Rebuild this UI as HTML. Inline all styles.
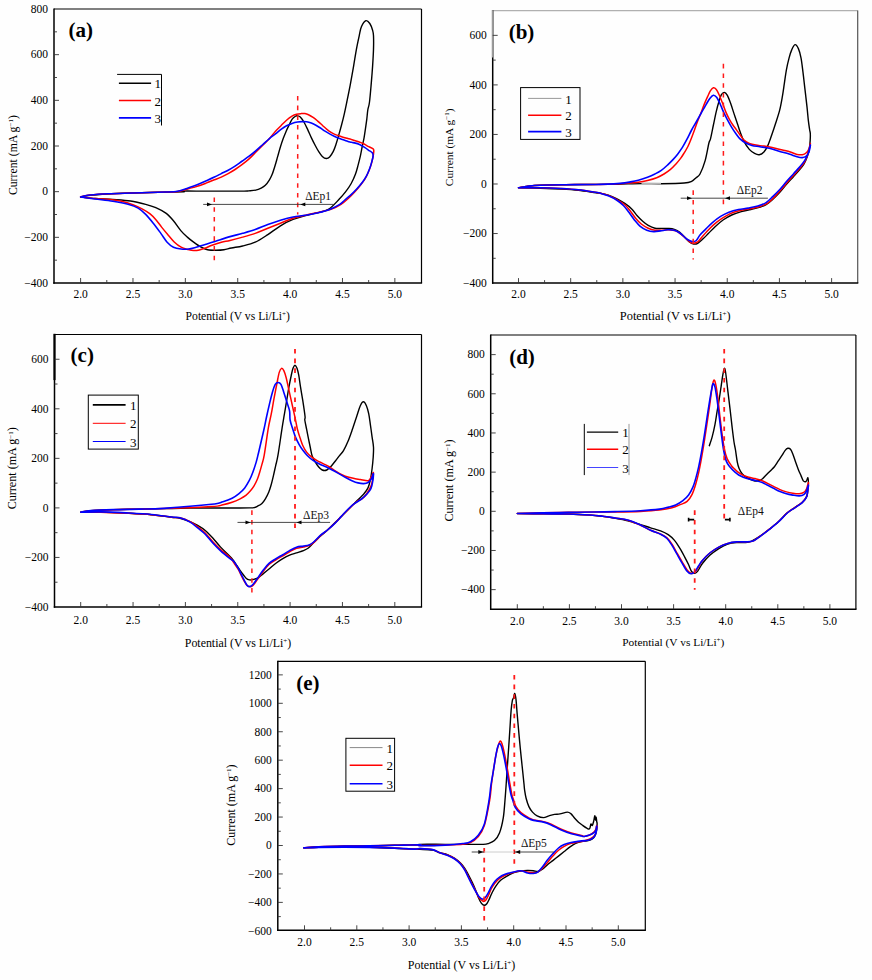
<!DOCTYPE html>
<html><head><meta charset="utf-8"><style>
html,body{margin:0;padding:0;background:#fff;}
body{width:872px;height:980px;overflow:hidden;}
svg{display:block;}
text{font-family:"Liberation Serif", serif;fill:#000;}
.tk{font-size:11.5px;}
.ti{font-size:12.5px;}
.lt{font-size:21px;font-weight:bold;}
.lg{font-size:13px;}
.lb{fill:#111;}
</style></head><body>
<svg width="872" height="980" viewBox="0 0 872 980">
<rect width="872" height="980" fill="#fefefe"/>
<line x1="54.00" y1="9.00" x2="421.50" y2="9.00" stroke="#000" stroke-width="1.2"/>
<line x1="421.50" y1="9.00" x2="421.50" y2="283.00" stroke="#000" stroke-width="1.2"/>
<line x1="54.00" y1="8.40" x2="54.00" y2="283.70" stroke="#000" stroke-width="1.5"/>
<line x1="53.30" y1="283.00" x2="422.10" y2="283.00" stroke="#000" stroke-width="1.5"/>
<path d="M80.60,283.00v-5.00 M106.79,283.00v-3.00 M132.97,283.00v-5.00 M159.16,283.00v-3.00 M185.35,283.00v-5.00 M211.54,283.00v-3.00 M237.72,283.00v-5.00 M263.91,283.00v-3.00 M290.10,283.00v-5.00 M316.29,283.00v-3.00 M342.48,283.00v-5.00 M368.66,283.00v-3.00 M394.85,283.00v-5.00 M54.00,260.17h3.00 M54.00,237.34h5.00 M54.00,214.50h3.00 M54.00,191.67h5.00 M54.00,168.84h3.00 M54.00,146.00h5.00 M54.00,123.17h3.00 M54.00,100.34h5.00 M54.00,77.50h3.00 M54.00,54.67h5.00 M54.00,31.84h3.00" stroke="#333" stroke-width="0.9" fill="none"/>
<text x="80.60" y="297.90" text-anchor="middle" class="tk">2.0</text>
<text x="132.97" y="297.90" text-anchor="middle" class="tk">2.5</text>
<text x="185.35" y="297.90" text-anchor="middle" class="tk">3.0</text>
<text x="237.72" y="297.90" text-anchor="middle" class="tk">3.5</text>
<text x="290.10" y="297.90" text-anchor="middle" class="tk">4.0</text>
<text x="342.48" y="297.90" text-anchor="middle" class="tk">4.5</text>
<text x="394.85" y="297.90" text-anchor="middle" class="tk">5.0</text>
<text x="48.00" y="286.80" text-anchor="end" class="tk">−400</text>
<text x="48.00" y="241.14" text-anchor="end" class="tk">−200</text>
<text x="48.00" y="195.47" text-anchor="end" class="tk">0</text>
<text x="48.00" y="149.80" text-anchor="end" class="tk">200</text>
<text x="48.00" y="104.14" text-anchor="end" class="tk">400</text>
<text x="48.00" y="58.47" text-anchor="end" class="tk">600</text>
<text x="48.00" y="12.81" text-anchor="end" class="tk">800</text>
<text x="237.75" y="319.90" text-anchor="middle" class="ti" style="font-size:11.65px">Potential (V vs Li/Li<tspan dy="-3.6" font-size="7">+</tspan><tspan dy="3.6">)</tspan></text>
<text transform="translate(17.00,155.15) rotate(-90)" text-anchor="middle" class="ti" style="font-size:11.75px">Current (mA g<tspan dy="-3.6" font-size="7">−1</tspan><tspan dy="3.6">)</tspan></text>
<text x="68.60" y="36.50" class="lt">(a)</text>
<line x1="492.70" y1="10.60" x2="857.70" y2="10.60" stroke="#b0b0b0" stroke-width="1.2"/>
<line x1="857.70" y1="10.60" x2="857.70" y2="283.10" stroke="#555" stroke-width="1.2"/>
<line x1="492.70" y1="10.00" x2="492.70" y2="283.80" stroke="#000" stroke-width="1.5"/>
<line x1="492.00" y1="283.10" x2="858.30" y2="283.10" stroke="#000" stroke-width="1.5"/>
<line x1="492.70" y1="10.10" x2="492.70" y2="57.50" stroke="#9a9a9a" stroke-width="1.70"/>
<path d="M518.50,283.10v-5.00 M544.59,283.10v-3.00 M570.68,283.10v-5.00 M596.78,283.10v-3.00 M622.87,283.10v-5.00 M648.96,283.10v-3.00 M675.06,283.10v-5.00 M701.15,283.10v-3.00 M727.24,283.10v-5.00 M753.33,283.10v-3.00 M779.42,283.10v-5.00 M805.52,283.10v-3.00 M831.61,283.10v-5.00 M492.70,258.31h3.00 M492.70,233.54h5.00 M492.70,208.76h3.00 M492.70,183.99h5.00 M492.70,159.22h3.00 M492.70,134.44h5.00 M492.70,109.67h3.00 M492.70,84.90h5.00 M492.70,60.12h3.00 M492.70,35.35h5.00" stroke="#333" stroke-width="0.9" fill="none"/>
<text x="518.50" y="297.80" text-anchor="middle" class="tk">2.0</text>
<text x="570.68" y="297.80" text-anchor="middle" class="tk">2.5</text>
<text x="622.87" y="297.80" text-anchor="middle" class="tk">3.0</text>
<text x="675.06" y="297.80" text-anchor="middle" class="tk">3.5</text>
<text x="727.24" y="297.80" text-anchor="middle" class="tk">4.0</text>
<text x="779.42" y="297.80" text-anchor="middle" class="tk">4.5</text>
<text x="831.61" y="297.80" text-anchor="middle" class="tk">5.0</text>
<text x="486.70" y="286.88" text-anchor="end" class="tk">−400</text>
<text x="486.70" y="237.34" text-anchor="end" class="tk">−200</text>
<text x="486.70" y="187.79" text-anchor="end" class="tk">0</text>
<text x="486.70" y="138.24" text-anchor="end" class="tk">200</text>
<text x="486.70" y="88.70" text-anchor="end" class="tk">400</text>
<text x="486.70" y="39.15" text-anchor="end" class="tk">600</text>
<text x="675.20" y="319.50" text-anchor="middle" class="ti" style="font-size:12.40px">Potential (V vs Li/Li<tspan dy="-3.6" font-size="7">+</tspan><tspan dy="3.6">)</tspan></text>
<text transform="translate(452.80,147.35) rotate(-90)" text-anchor="middle" class="ti" style="font-size:11.40px">Current (mA g<tspan dy="-3.6" font-size="7">−1</tspan><tspan dy="3.6">)</tspan></text>
<text x="508.70" y="38.50" class="lt">(b)</text>
<line x1="54.50" y1="334.50" x2="421.50" y2="334.50" stroke="#000" stroke-width="1.2"/>
<line x1="421.50" y1="334.50" x2="421.50" y2="607.00" stroke="#000" stroke-width="1.2"/>
<line x1="54.50" y1="333.90" x2="54.50" y2="607.70" stroke="#000" stroke-width="1.5"/>
<line x1="53.80" y1="607.00" x2="422.10" y2="607.00" stroke="#000" stroke-width="1.5"/>
<line x1="54.50" y1="333.80" x2="54.50" y2="380.10" stroke="#000" stroke-width="2.10"/>
<path d="M80.70,607.00v-5.00 M106.88,607.00v-3.00 M133.05,607.00v-5.00 M159.23,607.00v-3.00 M185.40,607.00v-5.00 M211.57,607.00v-3.00 M237.75,607.00v-5.00 M263.93,607.00v-3.00 M290.10,607.00v-5.00 M316.28,607.00v-3.00 M342.45,607.00v-5.00 M368.62,607.00v-3.00 M394.80,607.00v-5.00 M54.50,582.22h3.00 M54.50,557.45h5.00 M54.50,532.67h3.00 M54.50,507.90h5.00 M54.50,483.13h3.00 M54.50,458.35h5.00 M54.50,433.58h3.00 M54.50,408.81h5.00 M54.50,384.03h3.00 M54.50,359.26h5.00" stroke="#333" stroke-width="0.9" fill="none"/>
<text x="80.70" y="623.70" text-anchor="middle" class="tk">2.0</text>
<text x="133.05" y="623.70" text-anchor="middle" class="tk">2.5</text>
<text x="185.40" y="623.70" text-anchor="middle" class="tk">3.0</text>
<text x="237.75" y="623.70" text-anchor="middle" class="tk">3.5</text>
<text x="290.10" y="623.70" text-anchor="middle" class="tk">4.0</text>
<text x="342.45" y="623.70" text-anchor="middle" class="tk">4.5</text>
<text x="394.80" y="623.70" text-anchor="middle" class="tk">5.0</text>
<text x="48.50" y="610.79" text-anchor="end" class="tk">−400</text>
<text x="48.50" y="561.25" text-anchor="end" class="tk">−200</text>
<text x="48.50" y="511.70" text-anchor="end" class="tk">0</text>
<text x="48.50" y="462.15" text-anchor="end" class="tk">200</text>
<text x="48.50" y="412.61" text-anchor="end" class="tk">400</text>
<text x="48.50" y="363.06" text-anchor="end" class="tk">600</text>
<text x="238.00" y="646.50" text-anchor="middle" class="ti" style="font-size:11.90px">Potential (V vs Li/Li<tspan dy="-3.6" font-size="7">+</tspan><tspan dy="3.6">)</tspan></text>
<text transform="translate(16.20,468.30) rotate(-90)" text-anchor="middle" class="ti" style="font-size:12.10px">Current (mA g<tspan dy="-3.6" font-size="7">−1</tspan><tspan dy="3.6">)</tspan></text>
<text x="70.60" y="362.00" class="lt">(c)</text>
<line x1="490.70" y1="335.00" x2="855.90" y2="335.00" stroke="#000" stroke-width="1.2"/>
<line x1="855.90" y1="335.00" x2="855.90" y2="609.20" stroke="#000" stroke-width="1.2"/>
<line x1="490.70" y1="334.40" x2="490.70" y2="609.90" stroke="#000" stroke-width="1.5"/>
<line x1="490.00" y1="609.20" x2="856.50" y2="609.20" stroke="#000" stroke-width="1.5"/>
<path d="M517.30,609.20v-5.00 M543.35,609.20v-3.00 M569.40,609.20v-5.00 M595.45,609.20v-3.00 M621.50,609.20v-5.00 M647.55,609.20v-3.00 M673.60,609.20v-5.00 M699.65,609.20v-3.00 M725.70,609.20v-5.00 M751.75,609.20v-3.00 M777.80,609.20v-5.00 M803.85,609.20v-3.00 M829.90,609.20v-5.00 M490.70,589.64h5.00 M490.70,570.06h3.00 M490.70,550.47h5.00 M490.70,530.89h3.00 M490.70,511.30h5.00 M490.70,491.71h3.00 M490.70,472.13h5.00 M490.70,452.54h3.00 M490.70,432.96h5.00 M490.70,413.37h3.00 M490.70,393.78h5.00 M490.70,374.20h3.00 M490.70,354.61h5.00" stroke="#333" stroke-width="0.9" fill="none"/>
<text x="517.30" y="625.00" text-anchor="middle" class="tk">2.0</text>
<text x="569.40" y="625.00" text-anchor="middle" class="tk">2.5</text>
<text x="621.50" y="625.00" text-anchor="middle" class="tk">3.0</text>
<text x="673.60" y="625.00" text-anchor="middle" class="tk">3.5</text>
<text x="725.70" y="625.00" text-anchor="middle" class="tk">4.0</text>
<text x="777.80" y="625.00" text-anchor="middle" class="tk">4.5</text>
<text x="829.90" y="625.00" text-anchor="middle" class="tk">5.0</text>
<text x="484.70" y="593.44" text-anchor="end" class="tk">−400</text>
<text x="484.70" y="554.27" text-anchor="end" class="tk">−200</text>
<text x="484.70" y="515.10" text-anchor="end" class="tk">0</text>
<text x="484.70" y="475.93" text-anchor="end" class="tk">200</text>
<text x="484.70" y="436.76" text-anchor="end" class="tk">400</text>
<text x="484.70" y="397.58" text-anchor="end" class="tk">600</text>
<text x="484.70" y="358.41" text-anchor="end" class="tk">800</text>
<text x="673.30" y="646.00" text-anchor="middle" class="ti" style="font-size:11.40px">Potential (V vs Li/Li<tspan dy="-3.6" font-size="7">+</tspan><tspan dy="3.6">)</tspan></text>
<text transform="translate(453.40,480.50) rotate(-90)" text-anchor="middle" class="ti" style="font-size:12.10px">Current (mA g<tspan dy="-3.6" font-size="7">−1</tspan><tspan dy="3.6">)</tspan></text>
<text x="509.20" y="363.50" class="lt">(d)</text>
<line x1="277.80" y1="661.30" x2="645.30" y2="661.30" stroke="#000" stroke-width="1.2"/>
<line x1="645.30" y1="661.30" x2="645.30" y2="930.30" stroke="#000" stroke-width="1.2"/>
<line x1="277.80" y1="660.70" x2="277.80" y2="931.00" stroke="#000" stroke-width="1.5"/>
<line x1="277.10" y1="930.30" x2="645.90" y2="930.30" stroke="#000" stroke-width="1.5"/>
<path d="M304.50,930.30v-5.00 M330.65,930.30v-3.00 M356.80,930.30v-5.00 M382.95,930.30v-3.00 M409.10,930.30v-5.00 M435.25,930.30v-3.00 M461.40,930.30v-5.00 M487.55,930.30v-3.00 M513.70,930.30v-5.00 M539.85,930.30v-3.00 M566.00,930.30v-5.00 M592.15,930.30v-3.00 M618.30,930.30v-5.00 M277.80,916.60h3.00 M277.80,902.38h5.00 M277.80,888.16h3.00 M277.80,873.94h5.00 M277.80,859.72h3.00 M277.80,845.50h5.00 M277.80,831.28h3.00 M277.80,817.06h5.00 M277.80,802.84h3.00 M277.80,788.62h5.00 M277.80,774.40h3.00 M277.80,760.18h5.00 M277.80,745.96h3.00 M277.80,731.74h5.00 M277.80,717.52h3.00 M277.80,703.30h5.00 M277.80,689.08h3.00 M277.80,674.86h5.00" stroke="#333" stroke-width="0.9" fill="none"/>
<text x="304.50" y="946.10" text-anchor="middle" class="tk">2.0</text>
<text x="356.80" y="946.10" text-anchor="middle" class="tk">2.5</text>
<text x="409.10" y="946.10" text-anchor="middle" class="tk">3.0</text>
<text x="461.40" y="946.10" text-anchor="middle" class="tk">3.5</text>
<text x="513.70" y="946.10" text-anchor="middle" class="tk">4.0</text>
<text x="566.00" y="946.10" text-anchor="middle" class="tk">4.5</text>
<text x="618.30" y="946.10" text-anchor="middle" class="tk">5.0</text>
<text x="271.80" y="934.62" text-anchor="end" class="tk">−600</text>
<text x="271.80" y="906.18" text-anchor="end" class="tk">−400</text>
<text x="271.80" y="877.74" text-anchor="end" class="tk">−200</text>
<text x="271.80" y="849.30" text-anchor="end" class="tk">0</text>
<text x="271.80" y="820.86" text-anchor="end" class="tk">200</text>
<text x="271.80" y="792.42" text-anchor="end" class="tk">400</text>
<text x="271.80" y="763.98" text-anchor="end" class="tk">600</text>
<text x="271.80" y="735.54" text-anchor="end" class="tk">800</text>
<text x="271.80" y="707.10" text-anchor="end" class="tk">1000</text>
<text x="271.80" y="678.66" text-anchor="end" class="tk">1200</text>
<text x="461.55" y="969.00" text-anchor="middle" class="ti" style="font-size:12.00px">Potential (V vs Li/Li<tspan dy="-3.6" font-size="7">+</tspan><tspan dy="3.6">)</tspan></text>
<text transform="translate(234.80,805.10) rotate(-90)" text-anchor="middle" class="ti" style="font-size:12.00px">Current (mA g<tspan dy="-3.6" font-size="7">−1</tspan><tspan dy="3.6">)</tspan></text>
<text x="296.20" y="689.80" class="lt">(e)</text>
<path d="M117.1,74.4 H161.5 V125.5" fill="none" stroke="#000" stroke-width="1"/>
<line x1="118.90" y1="83.30" x2="151.10" y2="83.30" stroke="#000000" stroke-width="1.40"/>
<text x="154.40" y="88.40" class="lg">1</text>
<line x1="118.90" y1="100.50" x2="151.10" y2="100.50" stroke="#ff0000" stroke-width="1.60"/>
<text x="154.40" y="105.60" class="lg">2</text>
<line x1="118.90" y1="117.90" x2="151.10" y2="117.90" stroke="#0000ff" stroke-width="1.60"/>
<text x="154.40" y="123.00" class="lg">3</text>
<rect x="520.60" y="87.60" width="59.40" height="51.80" fill="none" stroke="#000" stroke-width="1"/>
<line x1="528.10" y1="98.40" x2="561.40" y2="98.40" stroke="#999" stroke-width="1.00"/>
<text x="565.20" y="103.50" class="lg">1</text>
<line x1="528.10" y1="115.30" x2="561.40" y2="115.30" stroke="#ff0000" stroke-width="1.60"/>
<text x="565.20" y="120.40" class="lg">2</text>
<line x1="528.10" y1="131.70" x2="561.40" y2="131.70" stroke="#0000ff" stroke-width="1.80"/>
<text x="565.20" y="136.80" class="lg">3</text>
<rect x="88.30" y="395.10" width="50.00" height="54.00" fill="none" stroke="#000" stroke-width="1"/>
<line x1="92.80" y1="404.90" x2="125.60" y2="404.90" stroke="#000000" stroke-width="1.60"/>
<text x="130.00" y="410.00" class="lg">1</text>
<line x1="92.80" y1="423.30" x2="125.60" y2="423.30" stroke="#ff0000" stroke-width="1.00"/>
<text x="130.00" y="428.40" class="lg">2</text>
<line x1="92.80" y1="441.50" x2="125.60" y2="441.50" stroke="#0000ff" stroke-width="1.20"/>
<text x="130.00" y="446.60" class="lg">3</text>
<line x1="584.3" y1="423.9" x2="584.3" y2="475.1" stroke="#000" stroke-width="1"/>
<line x1="629" y1="423.9" x2="629" y2="475.1" stroke="#999" stroke-width="1"/>
<line x1="586.90" y1="432.20" x2="618.20" y2="432.20" stroke="#000000" stroke-width="1.30"/>
<text x="622.20" y="437.30" class="lg">1</text>
<line x1="586.90" y1="449.30" x2="618.20" y2="449.30" stroke="#ff0000" stroke-width="1.60"/>
<text x="622.20" y="454.40" class="lg">2</text>
<line x1="586.90" y1="467.50" x2="618.20" y2="467.50" stroke="#4444ff" stroke-width="1.00"/>
<text x="622.20" y="472.60" class="lg">3</text>
<rect x="345.90" y="738.30" width="48.70" height="52.90" fill="none" stroke="#000" stroke-width="1"/>
<line x1="349.70" y1="747.60" x2="382.50" y2="747.60" stroke="#888" stroke-width="1.00"/>
<text x="386.50" y="752.70" class="lg">1</text>
<line x1="349.70" y1="765.30" x2="382.50" y2="765.30" stroke="#ff0000" stroke-width="1.40"/>
<text x="386.50" y="770.40" class="lg">2</text>
<line x1="349.70" y1="783.70" x2="382.50" y2="783.70" stroke="#0000ff" stroke-width="1.40"/>
<text x="386.50" y="788.80" class="lg">3</text>
<path d="M80.60,197.02 C82.19,196.72 85.64,195.76 90.18,195.25 C94.72,194.75 100.70,194.37 107.84,193.99 C114.99,193.61 124.66,193.28 133.07,192.98 C141.48,192.69 149.89,192.44 158.30,192.22 C166.71,192.01 179.92,191.91 183.53,191.72 C187.15,191.53 176.00,191.20 180.00,191.10 C184.00,191.00 197.20,191.10 207.52,191.10 C217.84,191.10 235.05,191.15 241.93,191.10 C248.81,191.06 246.51,190.99 248.81,190.83 C251.10,190.67 253.62,190.60 255.69,190.14 C257.75,189.68 259.59,188.88 261.19,188.07 C262.80,187.27 263.94,186.70 265.32,185.32 C266.70,183.94 268.30,181.65 269.45,179.82 C270.60,177.98 271.28,176.61 272.20,174.31 C273.12,172.02 274.04,169.04 274.95,166.06 C275.87,163.07 276.79,159.63 277.71,156.42 C278.62,153.21 279.54,149.77 280.46,146.79 C281.38,143.81 282.29,141.06 283.21,138.53 C284.13,136.01 285.12,133.64 285.96,131.65 C286.81,129.66 287.29,128.66 288.30,126.60 C289.31,124.54 290.77,121.05 292.00,119.30 C293.23,117.55 294.78,116.68 295.70,116.10 C296.62,115.52 296.73,115.65 297.50,115.80 C298.27,115.95 299.23,115.97 300.30,117.00 C301.37,118.03 302.68,119.93 303.90,122.00 C305.12,124.07 306.37,126.80 307.60,129.40 C308.83,132.00 310.07,135.00 311.30,137.60 C312.53,140.20 313.78,142.70 315.00,145.00 C316.22,147.30 317.38,149.50 318.60,151.40 C319.82,153.30 321.00,155.22 322.30,156.40 C323.60,157.58 325.18,158.42 326.40,158.50 C327.62,158.58 328.45,158.08 329.60,156.90 C330.75,155.72 332.22,153.55 333.30,151.40 C334.38,149.25 335.18,146.75 336.10,144.00 C337.02,141.25 337.88,138.10 338.80,134.90 C339.72,131.70 340.68,128.32 341.60,124.80 C342.52,121.28 343.43,117.60 344.30,113.80 C345.17,110.00 345.82,106.78 346.80,102.00 C347.78,97.22 349.07,91.08 350.20,85.10 C351.33,79.12 352.57,72.07 353.60,66.10 C354.63,60.13 355.47,54.35 356.40,49.30 C357.33,44.25 358.37,39.55 359.20,35.80 C360.03,32.05 360.28,29.32 361.40,26.80 C362.52,24.28 364.50,21.25 365.90,20.70 C367.30,20.15 368.68,21.92 369.80,23.50 C370.92,25.08 371.98,28.15 372.60,30.20 C373.22,32.25 373.35,32.62 373.50,35.80 C373.65,38.98 373.65,44.25 373.50,49.30 C373.35,54.35 372.97,60.50 372.60,66.10 C372.23,71.70 371.82,76.92 371.30,82.90 C370.78,88.88 370.08,97.48 369.50,102.00 C368.92,106.52 368.25,107.13 367.80,110.00 C367.35,112.87 367.18,116.13 366.80,119.20 C366.42,122.27 365.95,125.33 365.50,128.40 C365.05,131.47 364.65,134.55 364.10,137.60 C363.55,140.65 362.82,143.65 362.20,146.70 C361.58,149.75 361.08,152.83 360.40,155.90 C359.72,158.97 358.93,162.03 358.10,165.10 C357.27,168.17 356.55,171.23 355.40,174.30 C354.25,177.37 352.82,180.60 351.20,183.50 C349.58,186.40 347.68,189.10 345.70,191.70 C343.72,194.30 342.18,196.15 339.30,199.10 C336.42,202.05 332.31,207.04 328.39,209.38 C324.47,211.72 319.56,212.11 315.78,213.17 C312.00,214.22 309.47,214.64 305.69,215.69 C301.90,216.74 297.28,217.79 293.07,219.47 C288.87,221.15 284.66,223.26 280.46,225.78 C276.25,228.30 272.05,231.88 267.84,234.61 C263.64,237.34 259.43,240.29 255.23,242.18 C251.02,244.07 246.57,245.00 242.61,245.96 C238.65,246.93 234.59,247.35 231.47,247.98 C228.35,248.61 226.42,249.37 223.90,249.75 C221.38,250.13 219.06,250.25 216.33,250.25 C213.60,250.25 210.02,250.25 207.50,249.75 C204.98,249.24 203.51,248.49 201.19,247.22 C198.88,245.96 195.94,243.86 193.62,242.18 C191.31,240.50 189.42,239.03 187.32,237.13 C185.21,235.24 183.32,233.56 181.01,230.83 C178.70,228.09 175.96,223.68 173.44,220.73 C170.92,217.79 168.81,215.35 165.87,213.17 C162.93,210.98 159.14,209.09 155.78,207.61 C152.42,206.14 149.89,205.43 145.69,204.33 C141.48,203.24 136.02,201.85 130.55,201.06 C125.08,200.26 118.78,199.96 112.89,199.54 C107.00,199.12 100.61,198.95 95.23,198.53 C89.85,198.11 83.04,197.27 80.60,197.02" fill="none" stroke="#000000" stroke-width="1.40" stroke-linejoin="round" stroke-linecap="round"/>
<path d="M80.60,196.77 C82.19,196.47 85.64,195.50 90.18,195.00 C94.72,194.50 100.70,194.07 107.84,193.74 C114.99,193.40 124.66,193.23 133.07,192.98 C141.48,192.73 151.15,192.44 158.30,192.22 C165.45,192.01 171.20,192.23 175.96,191.72 C180.73,191.21 183.91,189.90 186.88,189.17 C189.85,188.45 191.47,188.03 193.76,187.39 C196.06,186.74 198.35,186.12 200.64,185.32 C202.94,184.52 205.23,183.49 207.52,182.57 C209.82,181.65 212.11,180.73 214.40,179.82 C216.70,178.90 218.99,178.10 221.28,177.06 C223.58,176.03 225.87,174.89 228.17,173.62 C230.46,172.36 232.75,170.99 235.05,169.50 C237.34,168.00 239.63,166.40 241.93,164.68 C244.22,162.96 246.51,161.24 248.81,159.17 C251.10,157.11 253.39,154.59 255.69,152.29 C257.98,150.00 260.28,147.71 262.57,145.41 C264.86,143.12 267.29,140.90 269.45,138.53 C271.60,136.16 273.57,133.34 275.50,131.20 C277.43,129.06 279.17,127.53 281.00,125.70 C282.83,123.87 284.67,121.80 286.50,120.20 C288.33,118.60 290.32,117.10 292.00,116.10 C293.68,115.10 295.07,114.62 296.60,114.20 C298.13,113.78 299.82,113.70 301.20,113.60 C302.58,113.50 303.68,113.42 304.90,113.60 C306.12,113.78 307.13,114.07 308.50,114.70 C309.87,115.33 311.57,116.33 313.10,117.40 C314.63,118.47 316.17,119.80 317.70,121.10 C319.23,122.40 320.77,123.82 322.30,125.20 C323.83,126.58 325.37,128.17 326.90,129.40 C328.43,130.63 329.97,131.68 331.50,132.60 C333.03,133.52 334.42,134.22 336.10,134.90 C337.78,135.58 339.77,136.13 341.60,136.70 C343.43,137.27 345.50,137.85 347.10,138.30 C348.70,138.75 349.28,138.83 351.20,139.40 C353.12,139.97 356.45,140.93 358.60,141.70 C360.75,142.47 362.42,143.17 364.10,144.00 C365.78,144.83 367.17,145.87 368.70,146.70 C370.23,147.53 372.47,148.08 373.30,149.00 C374.13,149.92 373.78,150.73 373.70,152.20 C373.62,153.67 373.25,155.65 372.80,157.80 C372.35,159.95 371.77,162.65 371.00,165.10 C370.23,167.55 369.20,170.20 368.20,172.50 C367.20,174.80 366.30,176.77 365.00,178.90 C363.70,181.03 362.08,183.17 360.40,185.30 C358.72,187.43 356.88,189.55 354.90,191.70 C352.92,193.85 350.82,196.09 348.50,198.20 C346.18,200.31 343.94,202.47 341.01,204.33 C338.08,206.20 334.70,208.04 330.92,209.38 C327.13,210.73 322.51,211.44 318.30,212.41 C314.10,213.38 309.89,214.22 305.69,215.18 C301.48,216.15 297.28,216.87 293.07,218.21 C288.87,219.56 284.66,221.57 280.46,223.26 C276.25,224.94 272.05,226.62 267.84,228.30 C263.64,229.98 259.43,231.88 255.23,233.35 C251.02,234.82 246.82,235.96 242.61,237.13 C238.41,238.31 233.54,239.57 230.00,240.41 C226.46,241.25 224.50,241.34 221.38,242.18 C218.26,243.02 213.80,244.52 211.28,245.46 C208.77,246.40 208.28,247.04 206.30,247.80 C204.32,248.56 201.50,249.53 199.40,250.00 C197.30,250.47 195.60,250.68 193.70,250.60 C191.80,250.52 190.10,250.07 188.00,249.50 C185.90,248.93 183.40,248.45 181.10,247.20 C178.80,245.95 176.50,244.20 174.20,242.00 C171.90,239.80 169.40,236.48 167.30,234.00 C165.20,231.52 163.50,229.48 161.60,227.10 C159.70,224.72 157.82,221.90 155.90,219.70 C153.98,217.50 152.40,215.72 150.10,213.90 C147.80,212.08 144.97,210.33 142.10,208.80 C139.23,207.27 136.33,205.95 132.90,204.70 C129.47,203.45 125.32,202.18 121.50,201.30 C117.68,200.42 114.38,199.86 110.00,199.40 C105.62,198.94 100.13,198.97 95.23,198.53 C90.33,198.09 83.04,197.06 80.60,196.77" fill="none" stroke="#ff0000" stroke-width="1.50" stroke-linejoin="round" stroke-linecap="round"/>
<path d="M80.60,197.02 C82.19,196.68 85.64,195.55 90.18,195.00 C94.72,194.45 100.70,194.07 107.84,193.74 C114.99,193.40 124.66,193.23 133.07,192.98 C141.48,192.73 151.15,192.48 158.30,192.22 C165.45,191.97 171.20,192.09 175.96,191.47 C180.73,190.84 183.91,189.40 186.88,188.49 C189.85,187.58 191.47,186.88 193.76,186.01 C196.06,185.14 198.35,184.22 200.64,183.26 C202.94,182.29 205.23,181.26 207.52,180.23 C209.82,179.20 212.11,178.17 214.40,177.06 C216.70,175.96 218.99,174.77 221.28,173.62 C223.58,172.48 225.87,171.44 228.17,170.18 C230.46,168.92 232.75,167.55 235.05,166.06 C237.34,164.56 239.63,162.84 241.93,161.24 C244.22,159.63 246.51,158.14 248.81,156.42 C251.10,154.70 253.39,152.87 255.69,150.92 C257.98,148.97 260.28,146.79 262.57,144.72 C264.86,142.66 267.29,140.34 269.45,138.53 C271.60,136.73 273.57,135.42 275.50,133.90 C277.43,132.38 279.17,130.77 281.00,129.40 C282.83,128.03 284.67,126.70 286.50,125.70 C288.33,124.70 290.17,124.02 292.00,123.40 C293.83,122.78 295.82,122.30 297.50,122.00 C299.18,121.70 300.57,121.63 302.10,121.60 C303.63,121.57 305.17,121.55 306.70,121.80 C308.23,122.05 309.77,122.53 311.30,123.10 C312.83,123.67 314.37,124.38 315.90,125.20 C317.43,126.02 318.98,127.00 320.50,128.00 C322.02,129.00 323.48,130.22 325.00,131.20 C326.52,132.18 328.07,133.07 329.60,133.90 C331.13,134.73 332.52,135.43 334.20,136.20 C335.88,136.97 337.87,137.80 339.70,138.50 C341.53,139.20 343.48,139.82 345.20,140.40 C346.92,140.98 348.68,141.63 350.00,142.00 C351.32,142.37 351.52,142.20 353.10,142.60 C354.68,143.00 357.52,143.55 359.50,144.40 C361.48,145.25 363.32,146.62 365.00,147.70 C366.68,148.78 368.38,150.07 369.60,150.90 C370.82,151.73 371.72,151.87 372.30,152.70 C372.88,153.53 373.17,154.45 373.10,155.90 C373.03,157.35 372.48,159.25 371.90,161.40 C371.32,163.55 370.52,166.35 369.60,168.80 C368.68,171.25 367.63,173.82 366.40,176.10 C365.17,178.38 363.82,180.35 362.20,182.50 C360.58,184.65 358.68,186.85 356.70,189.00 C354.72,191.15 352.28,193.57 350.30,195.40 C348.32,197.23 346.56,198.51 344.80,200.00 C343.04,201.49 342.27,202.77 339.75,204.33 C337.22,205.90 333.23,207.99 329.66,209.38 C326.08,210.77 322.30,211.69 318.30,212.66 C314.31,213.63 309.89,214.47 305.69,215.18 C301.48,215.90 297.28,216.11 293.07,216.95 C288.87,217.79 284.66,218.97 280.46,220.23 C276.25,221.49 272.05,222.96 267.84,224.52 C263.64,226.07 259.43,228.09 255.23,229.56 C251.02,231.04 246.82,232.17 242.61,233.35 C238.41,234.53 234.38,235.37 230.00,236.63 C225.62,237.89 220.29,239.66 216.33,240.92 C212.37,242.18 209.60,243.15 206.24,244.20 C202.87,245.25 199.09,246.43 196.15,247.22 C193.20,248.02 191.10,248.70 188.58,248.99 C186.06,249.29 183.53,249.29 181.01,248.99 C178.49,248.70 175.75,248.36 173.44,247.22 C171.13,246.09 169.24,244.49 167.13,242.18 C165.03,239.87 163.14,236.50 160.83,233.35 C158.51,230.19 155.78,226.41 153.26,223.26 C150.73,220.10 148.21,216.95 145.69,214.43 C143.17,211.90 141.06,209.80 138.12,208.12 C135.18,206.44 132.23,205.47 128.03,204.33 C123.82,203.20 118.36,202.19 112.89,201.31 C107.42,200.42 100.61,199.75 95.23,199.04 C89.85,198.32 83.04,197.35 80.60,197.02" fill="none" stroke="#0000ff" stroke-width="1.60" stroke-linejoin="round" stroke-linecap="round"/>
<path d="M518.51,187.75 C520.06,187.50 524.19,186.66 527.84,186.24 C531.50,185.82 534.15,185.48 540.46,185.23 C546.77,184.98 557.28,184.85 565.69,184.72 C574.10,184.60 582.51,184.56 590.92,184.47 C599.33,184.39 607.75,184.37 616.15,184.22 C624.54,184.07 633.77,183.69 641.30,183.60 C648.83,183.51 654.15,183.80 661.30,183.70 C668.45,183.60 679.15,183.38 684.20,183.00 C689.25,182.62 689.62,182.28 691.60,181.40 C693.58,180.52 694.70,178.93 696.10,177.70 C697.50,176.47 698.51,176.80 700.00,174.00 C701.49,171.20 703.59,166.04 705.07,160.92 C706.54,155.79 707.95,146.94 708.85,143.26 C709.76,139.57 709.74,141.84 710.50,138.80 C711.26,135.76 712.43,129.58 713.40,125.00 C714.37,120.42 715.35,115.30 716.30,111.30 C717.25,107.30 718.25,103.77 719.10,101.00 C719.95,98.23 720.53,96.13 721.40,94.70 C722.27,93.27 723.33,92.32 724.30,92.40 C725.27,92.48 726.15,93.38 727.20,95.20 C728.25,97.02 729.47,100.23 730.60,103.30 C731.73,106.37 732.85,110.17 734.00,113.60 C735.15,117.03 736.50,120.92 737.50,123.90 C738.50,126.88 738.92,128.58 740.00,131.50 C741.08,134.42 742.45,138.42 744.00,141.40 C745.55,144.38 747.53,147.40 749.30,149.40 C751.07,151.40 752.95,152.52 754.60,153.40 C756.25,154.28 757.65,154.93 759.20,154.70 C760.75,154.47 762.45,153.55 763.90,152.00 C765.35,150.45 766.58,148.27 767.90,145.40 C769.22,142.53 770.48,138.57 771.80,134.80 C773.12,131.03 774.47,127.00 775.80,122.80 C777.13,118.60 778.70,114.02 779.80,109.60 C780.90,105.18 781.63,100.72 782.40,96.30 C783.17,91.88 783.73,87.52 784.40,83.10 C785.07,78.68 785.62,74.00 786.40,69.80 C787.18,65.60 788.22,61.22 789.10,57.90 C789.98,54.58 790.72,52.12 791.70,49.90 C792.68,47.68 793.88,44.82 795.00,44.60 C796.12,44.38 797.40,46.38 798.40,48.60 C799.40,50.82 800.23,53.93 801.00,57.90 C801.77,61.87 802.33,67.10 803.00,72.40 C803.67,77.70 804.33,83.95 805.00,89.70 C805.67,95.45 806.45,101.82 807.00,106.90 C807.55,111.98 807.87,116.43 808.30,120.20 C808.73,123.97 809.27,127.28 809.60,129.50 C809.93,131.72 810.20,131.75 810.30,133.50 C810.40,135.25 810.35,137.53 810.20,140.00 C810.05,142.47 809.88,145.55 809.40,148.30 C808.92,151.05 808.22,153.87 807.30,156.50 C806.38,159.13 805.27,161.80 803.90,164.10 C802.53,166.40 800.82,168.23 799.10,170.30 C797.38,172.37 795.67,174.22 793.60,176.50 C791.53,178.78 789.00,181.37 786.70,184.00 C784.40,186.63 782.10,189.77 779.80,192.30 C777.50,194.83 775.18,197.13 772.90,199.20 C770.62,201.27 768.38,203.33 766.10,204.70 C763.82,206.07 761.73,206.60 759.20,207.40 C756.67,208.20 753.88,208.80 750.90,209.50 C747.92,210.20 744.50,210.68 741.30,211.60 C738.10,212.52 734.68,213.63 731.70,215.00 C728.72,216.37 726.17,217.85 723.40,219.80 C720.63,221.75 717.62,224.40 715.10,226.70 C712.58,229.00 710.35,231.53 708.30,233.60 C706.25,235.67 704.57,237.48 702.80,239.10 C701.03,240.72 699.23,242.48 697.70,243.30 C696.17,244.12 694.98,244.23 693.60,244.00 C692.22,243.77 690.78,242.93 689.40,241.90 C688.02,240.87 686.90,239.40 685.30,237.80 C683.70,236.20 681.63,233.72 679.80,232.30 C677.97,230.88 676.13,229.95 674.30,229.30 C672.47,228.65 670.87,228.55 668.80,228.40 C666.73,228.25 664.20,228.43 661.90,228.40 C659.60,228.37 657.28,228.70 655.00,228.20 C652.72,227.70 650.25,226.55 648.20,225.40 C646.15,224.25 644.53,222.90 642.70,221.30 C640.87,219.70 639.03,217.87 637.20,215.80 C635.37,213.73 633.77,210.97 631.70,208.90 C629.63,206.83 627.33,205.12 624.80,203.40 C622.27,201.68 619.25,199.98 616.50,198.60 C613.75,197.22 611.05,196.02 608.30,195.10 C605.55,194.18 602.06,193.48 600.00,193.10 C597.94,192.72 599.58,193.27 595.96,192.80 C592.35,192.33 584.19,190.91 578.30,190.28 C572.42,189.64 566.95,189.35 560.64,189.01 C554.33,188.68 547.48,188.47 540.46,188.26 C533.44,188.05 522.17,187.84 518.51,187.75" fill="none" stroke="#000000" stroke-width="1.40" stroke-linejoin="round" stroke-linecap="round"/>
<line x1="641.5" y1="183.5" x2="661" y2="183.6" stroke="#b4b4b4" stroke-width="1.8"/>
<path d="M518.51,187.75 C520.06,187.50 524.19,186.66 527.84,186.24 C531.50,185.82 534.15,185.48 540.46,185.23 C546.77,184.98 557.28,184.85 565.69,184.72 C574.10,184.60 585.20,184.53 590.92,184.47 C596.64,184.42 596.19,184.46 600.00,184.40 C603.81,184.34 610.47,184.22 613.80,184.10 C617.13,183.98 617.43,183.88 620.00,183.70 C622.57,183.52 626.15,183.23 629.20,183.00 C632.25,182.77 635.25,182.72 638.30,182.30 C641.35,181.88 644.43,181.27 647.50,180.50 C650.57,179.73 653.95,178.78 656.70,177.70 C659.45,176.62 661.70,175.38 664.00,174.00 C666.30,172.62 668.50,171.08 670.50,169.40 C672.50,167.72 674.32,165.73 676.00,163.90 C677.68,162.07 679.23,160.23 680.60,158.40 C681.97,156.57 682.98,154.88 684.20,152.90 C685.42,150.92 686.75,148.82 687.90,146.50 C689.05,144.18 690.03,141.67 691.10,139.00 C692.17,136.33 693.23,133.42 694.30,130.50 C695.37,127.58 696.42,124.33 697.50,121.50 C698.58,118.67 699.68,116.35 700.80,113.50 C701.92,110.65 703.05,107.25 704.20,104.40 C705.35,101.55 706.65,98.70 707.70,96.40 C708.75,94.10 709.55,92.03 710.50,90.60 C711.45,89.17 712.43,87.98 713.40,87.80 C714.37,87.62 715.35,88.35 716.30,89.50 C717.25,90.65 718.05,92.40 719.10,94.70 C720.15,97.00 721.45,100.35 722.60,103.30 C723.75,106.25 724.87,109.73 726.00,112.40 C727.13,115.07 728.25,117.20 729.40,119.30 C730.55,121.40 731.75,123.28 732.90,125.00 C734.05,126.72 735.12,127.97 736.30,129.60 C737.48,131.23 738.72,133.05 740.00,134.80 C741.28,136.55 742.45,138.67 744.00,140.10 C745.55,141.53 747.32,142.57 749.30,143.40 C751.28,144.23 753.47,144.65 755.90,145.10 C758.33,145.55 761.02,145.65 763.90,146.10 C766.78,146.55 770.12,147.15 773.20,147.80 C776.28,148.45 779.53,149.30 782.40,150.00 C785.27,150.70 787.97,151.27 790.40,152.00 C792.83,152.73 795.02,153.95 797.00,154.40 C798.98,154.85 800.75,154.98 802.30,154.70 C803.85,154.42 805.18,153.70 806.30,152.70 C807.42,151.70 808.32,150.23 809.00,148.70 C809.68,147.17 810.57,142.65 810.40,143.50 C810.23,144.35 808.97,150.72 808.00,153.80 C807.03,156.88 805.85,159.72 804.60,162.00 C803.35,164.28 802.10,165.55 800.50,167.50 C798.90,169.45 797.07,171.40 795.00,173.70 C792.93,176.00 790.40,178.67 788.10,181.30 C785.80,183.93 783.50,186.87 781.20,189.50 C778.90,192.13 776.60,194.80 774.30,197.10 C772.00,199.40 769.92,201.70 767.40,203.30 C764.88,204.90 762.18,205.78 759.20,206.70 C756.22,207.62 752.72,208.17 749.50,208.80 C746.28,209.43 743.10,209.70 739.90,210.50 C736.70,211.30 733.28,212.28 730.30,213.60 C727.32,214.92 724.75,216.57 722.00,218.40 C719.25,220.23 716.32,222.42 713.80,224.60 C711.28,226.78 708.97,229.32 706.90,231.50 C704.83,233.68 702.93,235.97 701.40,237.70 C699.87,239.43 699.00,240.97 697.70,241.90 C696.40,242.83 694.75,243.18 693.60,243.30 C692.45,243.42 691.95,243.28 690.80,242.60 C689.65,241.92 688.30,240.57 686.70,239.20 C685.10,237.83 683.03,235.78 681.20,234.40 C679.37,233.02 677.77,231.67 675.70,230.90 C673.63,230.13 671.10,229.92 668.80,229.80 C666.50,229.68 664.20,230.13 661.90,230.20 C659.60,230.27 657.28,230.53 655.00,230.20 C652.72,229.87 650.48,229.23 648.20,228.20 C645.92,227.17 643.37,225.62 641.30,224.00 C639.23,222.38 637.63,220.67 635.80,218.50 C633.97,216.33 632.13,213.28 630.30,211.00 C628.47,208.72 627.10,206.75 624.80,204.80 C622.50,202.85 619.25,200.87 616.50,199.30 C613.75,197.73 611.05,196.43 608.30,195.40 C605.55,194.37 602.06,193.62 600.00,193.10 C597.94,192.58 599.58,192.85 595.96,192.29 C592.35,191.74 584.19,190.40 578.30,189.77 C572.42,189.14 566.95,188.85 560.64,188.51 C554.33,188.17 547.48,187.88 540.46,187.75 C533.44,187.63 522.17,187.75 518.51,187.75" fill="none" stroke="#ff0000" stroke-width="1.50" stroke-linejoin="round" stroke-linecap="round"/>
<path d="M518.51,187.75 C520.06,187.50 524.19,186.66 527.84,186.24 C531.50,185.82 534.15,185.48 540.46,185.23 C546.77,184.98 557.28,184.85 565.69,184.72 C574.10,184.60 585.20,184.53 590.92,184.47 C596.64,184.42 596.19,184.50 600.00,184.40 C603.81,184.30 610.47,184.07 613.80,183.90 C617.13,183.73 617.43,183.70 620.00,183.40 C622.57,183.10 626.15,182.62 629.20,182.10 C632.25,181.58 635.25,181.12 638.30,180.30 C641.35,179.48 644.73,178.25 647.50,177.20 C650.27,176.15 652.60,175.13 654.90,174.00 C657.20,172.87 659.17,171.92 661.30,170.40 C663.43,168.88 665.72,166.73 667.70,164.90 C669.68,163.07 671.52,161.23 673.20,159.40 C674.88,157.57 676.27,155.90 677.80,153.90 C679.33,151.90 680.87,149.85 682.40,147.40 C683.93,144.95 685.47,142.10 687.00,139.20 C688.53,136.30 690.02,132.95 691.60,130.00 C693.18,127.05 694.85,124.42 696.50,121.50 C698.15,118.58 699.88,115.37 701.50,112.50 C703.12,109.63 704.78,106.67 706.20,104.30 C707.62,101.93 708.80,99.82 710.00,98.30 C711.20,96.78 712.27,95.33 713.40,95.20 C714.53,95.07 715.65,95.97 716.80,97.50 C717.95,99.03 719.15,101.92 720.30,104.40 C721.45,106.88 722.55,109.92 723.70,112.40 C724.85,114.88 725.87,116.82 727.20,119.30 C728.53,121.78 730.18,124.82 731.70,127.30 C733.22,129.78 734.92,132.28 736.30,134.20 C737.68,136.12 738.50,137.38 740.00,138.80 C741.50,140.22 743.32,141.60 745.30,142.70 C747.28,143.80 749.47,144.73 751.90,145.40 C754.33,146.07 757.02,146.22 759.90,146.70 C762.78,147.18 765.88,147.52 769.20,148.30 C772.52,149.08 776.48,150.45 779.80,151.40 C783.12,152.35 786.23,153.12 789.10,154.00 C791.97,154.88 794.80,156.10 797.00,156.70 C799.20,157.30 800.75,157.72 802.30,157.60 C803.85,157.48 805.18,156.93 806.30,156.00 C807.42,155.07 808.32,153.83 809.00,152.00 C809.68,150.17 810.57,144.70 810.40,145.00 C810.23,145.30 808.97,151.20 808.00,153.80 C807.03,156.40 805.97,158.43 804.60,160.60 C803.23,162.77 801.63,164.62 799.80,166.80 C797.97,168.98 795.78,171.28 793.60,173.70 C791.42,176.12 789.00,178.67 786.70,181.30 C784.40,183.93 782.10,186.98 779.80,189.50 C777.50,192.02 775.18,194.22 772.90,196.40 C770.62,198.58 768.62,200.98 766.10,202.60 C763.58,204.22 760.78,205.18 757.80,206.10 C754.82,207.02 751.42,207.53 748.20,208.10 C744.98,208.67 741.72,208.82 738.50,209.50 C735.28,210.18 731.88,211.05 728.90,212.20 C725.92,213.35 723.35,214.67 720.60,216.40 C717.85,218.13 714.92,220.43 712.40,222.60 C709.88,224.77 707.57,227.33 705.50,229.40 C703.43,231.47 701.53,233.15 700.00,235.00 C698.47,236.85 697.48,239.40 696.30,240.50 C695.12,241.60 694.05,241.60 692.90,241.60 C691.75,241.60 690.67,241.13 689.40,240.50 C688.13,239.87 686.90,239.05 685.30,237.80 C683.70,236.55 681.63,234.27 679.80,233.00 C677.97,231.73 676.37,230.73 674.30,230.20 C672.23,229.67 669.70,229.68 667.40,229.80 C665.10,229.92 662.78,230.60 660.50,230.90 C658.22,231.20 655.98,231.72 653.70,231.60 C651.42,231.48 649.10,231.12 646.80,230.20 C644.50,229.28 641.97,227.82 639.90,226.10 C637.83,224.38 636.23,222.20 634.40,219.90 C632.57,217.60 630.73,214.70 628.90,212.30 C627.07,209.90 625.47,207.55 623.40,205.50 C621.33,203.45 619.02,201.62 616.50,200.00 C613.98,198.38 611.05,196.95 608.30,195.80 C605.55,194.65 602.06,193.68 600.00,193.10 C597.94,192.52 599.58,192.85 595.96,192.29 C592.35,191.74 584.19,190.40 578.30,189.77 C572.42,189.14 566.95,188.85 560.64,188.51 C554.33,188.17 547.48,187.88 540.46,187.75 C533.44,187.63 522.17,187.75 518.51,187.75" fill="none" stroke="#0000ff" stroke-width="1.60" stroke-linejoin="round" stroke-linecap="round"/>
<path d="M80.73,512.16 C82.42,511.90 85.36,511.06 90.83,510.64 C96.29,510.22 105.54,509.89 113.53,509.63 C121.52,509.38 130.35,509.30 138.76,509.13 C147.17,508.96 155.58,508.79 163.99,508.62 C172.40,508.46 183.22,508.23 189.22,508.12 C195.22,508.01 194.38,508.00 200.00,507.98 C205.62,507.96 216.25,507.98 222.94,507.98 C229.63,507.98 235.74,508.00 240.14,507.98 C244.53,507.96 247.02,507.92 249.31,507.87 C251.61,507.81 252.56,507.91 253.90,507.64 C255.24,507.37 256.00,506.97 257.34,506.26 C258.68,505.55 260.59,504.64 261.93,503.39 C263.26,502.15 264.22,500.72 265.37,498.81 C266.51,496.90 267.85,494.22 268.81,491.93 C269.76,489.63 270.34,487.72 271.10,485.05 C271.87,482.37 272.63,479.12 273.39,475.87 C274.16,472.62 274.92,468.99 275.69,465.55 C276.45,462.11 276.91,461.49 277.98,455.23 C279.05,448.97 281.04,434.82 282.11,427.98 C283.18,421.15 283.64,418.81 284.40,414.22 C285.17,409.63 285.93,405.05 286.70,400.46 C287.46,395.87 288.23,390.90 288.99,386.70 C289.76,382.49 290.62,378.29 291.28,375.23 C291.95,372.17 292.39,370.01 293.00,368.35 C293.62,366.69 294.29,365.25 294.95,365.25 C295.62,365.25 296.39,366.69 297.02,368.35 C297.65,370.01 298.17,372.17 298.74,375.23 C299.31,378.29 299.79,382.49 300.46,386.70 C301.13,390.90 301.99,395.49 302.75,400.46 C303.52,405.43 304.70,413.26 305.05,416.51 C305.39,419.77 304.54,417.89 304.80,420.00 C305.06,422.11 306.00,426.15 306.60,429.20 C307.20,432.25 307.78,435.25 308.40,438.30 C309.02,441.35 309.68,444.58 310.30,447.50 C310.92,450.42 311.33,453.50 312.10,455.80 C312.87,458.10 313.83,459.47 314.90,461.30 C315.97,463.13 317.28,465.35 318.50,466.80 C319.72,468.25 320.82,469.47 322.20,470.00 C323.58,470.53 325.27,470.68 326.80,470.00 C328.33,469.32 329.93,467.45 331.40,465.90 C332.87,464.35 334.25,462.42 335.60,460.70 C336.95,458.98 338.18,457.28 339.50,455.60 C340.82,453.92 342.10,452.93 343.50,450.60 C344.90,448.27 346.42,445.15 347.90,441.60 C349.38,438.05 350.90,433.60 352.40,429.30 C353.90,425.00 355.58,419.73 356.90,415.80 C358.22,411.87 359.22,408.03 360.30,405.70 C361.38,403.37 362.38,401.80 363.40,401.80 C364.42,401.80 365.52,403.73 366.40,405.70 C367.28,407.67 368.03,410.42 368.70,413.60 C369.37,416.78 369.83,420.88 370.40,424.80 C370.97,428.72 371.58,433.37 372.10,437.10 C372.62,440.83 373.32,443.83 373.50,447.20 C373.68,450.57 373.43,453.75 373.20,457.30 C372.97,460.85 372.57,464.77 372.10,468.50 C371.63,472.23 371.07,476.52 370.40,479.70 C369.73,482.88 369.23,485.17 368.10,487.60 C366.97,490.03 365.15,492.42 363.60,494.30 C362.05,496.18 360.45,497.27 358.80,498.90 C357.15,500.53 355.58,502.22 353.70,504.10 C351.82,505.98 349.57,508.15 347.50,510.20 C345.43,512.25 343.37,514.33 341.30,516.40 C339.23,518.47 337.40,520.33 335.10,522.60 C332.80,524.87 330.12,527.62 327.50,530.00 C324.88,532.38 321.88,534.60 319.40,536.90 C316.92,539.20 314.50,541.90 312.60,543.80 C310.70,545.70 309.53,547.17 308.00,548.30 C306.47,549.43 305.32,549.83 303.40,550.60 C301.48,551.37 298.80,552.13 296.50,552.90 C294.20,553.67 291.88,554.23 289.60,555.20 C287.32,556.17 285.08,557.35 282.80,558.70 C280.52,560.05 278.20,561.58 275.90,563.30 C273.60,565.02 271.10,567.28 269.00,569.00 C266.90,570.72 265.22,572.07 263.30,573.60 C261.38,575.13 259.23,577.22 257.50,578.20 C255.77,579.18 254.23,579.22 252.90,579.50 C251.57,579.78 250.63,580.12 249.50,579.90 C248.37,579.68 247.43,579.45 246.10,578.20 C244.77,576.95 243.03,574.50 241.50,572.40 C239.97,570.30 238.25,567.60 236.90,565.60 C235.55,563.60 234.55,561.93 233.40,560.40 C232.25,558.87 232.17,558.66 230.00,556.40 C227.83,554.14 223.23,549.92 220.37,546.86 C217.50,543.80 215.32,540.76 212.80,538.03 C210.28,535.29 207.75,532.56 205.23,530.46 C202.71,528.36 200.18,526.88 197.66,525.41 C195.14,523.94 193.04,522.81 190.09,521.63 C187.15,520.45 183.09,519.09 180.00,518.35 C176.91,517.61 176.33,517.81 171.56,517.20 C166.79,516.59 158.94,515.35 151.38,514.68 C143.81,514.01 134.56,513.59 126.15,513.17 C117.74,512.74 108.49,512.32 100.92,512.16 C93.35,511.99 84.10,512.16 80.73,512.16" fill="none" stroke="#000000" stroke-width="1.40" stroke-linejoin="round" stroke-linecap="round"/>
<path d="M80.73,512.16 C82.42,511.90 85.36,511.06 90.83,510.64 C96.29,510.22 105.54,509.89 113.53,509.63 C121.52,509.38 130.35,509.30 138.76,509.13 C147.17,508.96 151.87,509.04 163.99,508.62 C176.11,508.20 201.64,507.25 211.47,506.61 C221.29,505.96 219.50,505.50 222.94,504.77 C226.38,504.04 229.24,503.24 232.11,502.25 C234.98,501.25 237.84,499.95 240.14,498.81 C242.43,497.66 244.15,496.70 245.87,495.37 C247.59,494.03 249.12,492.31 250.46,490.78 C251.80,489.25 252.75,488.10 253.90,486.19 C255.05,484.28 256.38,481.61 257.34,479.31 C258.30,477.02 258.87,474.92 259.63,472.43 C260.40,469.95 261.16,467.27 261.93,464.40 C262.69,461.54 263.15,461.30 264.22,455.23 C265.29,449.16 267.18,434.82 268.35,427.98 C269.51,421.15 270.26,419.19 271.22,414.22 C272.17,409.25 273.13,403.33 274.08,398.17 C275.04,393.00 276.09,387.56 276.95,383.26 C277.81,378.96 278.48,374.85 279.24,372.36 C280.01,369.88 280.77,368.64 281.54,368.35 C282.30,368.06 283.07,369.11 283.83,370.64 C284.59,372.17 285.36,374.66 286.12,377.52 C286.89,380.39 287.65,384.40 288.42,387.84 C289.18,391.28 289.95,394.72 290.71,398.17 C291.48,401.61 292.24,405.05 293.00,408.49 C293.77,411.93 294.57,415.36 295.30,418.81 C296.03,422.26 296.58,425.95 297.40,429.20 C298.22,432.45 299.28,435.55 300.20,438.30 C301.12,441.05 301.83,443.40 302.90,445.70 C303.97,448.00 305.22,450.27 306.60,452.10 C307.98,453.93 309.52,455.32 311.20,456.70 C312.88,458.08 314.72,459.25 316.70,460.40 C318.68,461.55 320.97,462.53 323.10,463.60 C325.23,464.67 327.35,465.50 329.50,466.80 C331.65,468.10 333.85,470.03 336.00,471.40 C338.15,472.77 340.27,474.02 342.40,475.00 C344.53,475.98 346.67,476.68 348.80,477.30 C350.93,477.92 353.28,478.33 355.20,478.70 C357.12,479.07 358.15,479.15 360.30,479.50 C362.45,479.85 366.33,481.13 368.10,480.80 C369.87,480.47 370.02,478.88 370.90,477.50 C371.78,476.12 373.12,472.13 373.40,472.50 C373.68,472.87 373.02,477.38 372.60,479.70 C372.18,482.02 371.83,484.15 370.90,486.40 C369.97,488.65 368.40,491.18 367.00,493.20 C365.60,495.22 363.92,497.28 362.50,498.50 C361.08,499.72 359.97,499.53 358.50,500.50 C357.03,501.47 355.53,502.67 353.70,504.30 C351.87,505.93 349.57,508.27 347.50,510.30 C345.43,512.33 343.37,514.38 341.30,516.50 C339.23,518.62 337.40,520.75 335.10,523.00 C332.80,525.25 329.92,527.88 327.50,530.00 C325.08,532.12 322.90,533.60 320.60,535.70 C318.30,537.80 315.62,540.97 313.70,542.60 C311.78,544.23 310.82,544.77 309.10,545.50 C307.38,546.23 305.50,546.53 303.40,547.00 C301.30,547.47 298.80,547.50 296.50,548.30 C294.20,549.10 291.88,550.55 289.60,551.80 C287.32,553.05 285.08,554.47 282.80,555.80 C280.52,557.13 278.20,558.37 275.90,559.80 C273.60,561.23 271.10,562.48 269.00,564.40 C266.90,566.32 265.22,568.82 263.30,571.30 C261.38,573.78 259.23,576.92 257.50,579.30 C255.77,581.68 254.05,584.35 252.90,585.60 C251.75,586.85 251.55,586.80 250.60,586.80 C249.65,586.80 248.53,587.03 247.20,585.60 C245.87,584.17 244.13,580.97 242.60,578.20 C241.07,575.43 239.53,571.68 238.00,569.00 C236.47,566.32 234.73,564.02 233.40,562.10 C232.07,560.18 232.17,559.62 230.00,557.50 C227.83,555.38 223.23,552.00 220.37,549.38 C217.50,546.77 215.32,544.55 212.80,541.81 C210.28,539.08 207.75,535.50 205.23,532.98 C202.71,530.46 200.18,528.57 197.66,526.67 C195.14,524.78 193.04,523.10 190.09,521.63 C187.15,520.16 183.09,518.58 180.00,517.84 C176.91,517.11 176.33,517.73 171.56,517.20 C166.79,516.67 158.94,515.35 151.38,514.68 C143.81,514.01 134.56,513.59 126.15,513.17 C117.74,512.74 108.49,512.32 100.92,512.16 C93.35,511.99 84.10,512.16 80.73,512.16" fill="none" stroke="#ff0000" stroke-width="1.50" stroke-linejoin="round" stroke-linecap="round"/>
<path d="M80.73,512.16 C82.42,511.90 85.36,511.06 90.83,510.64 C96.29,510.22 105.54,509.89 113.53,509.63 C121.52,509.38 130.35,509.34 138.76,509.13 C147.17,508.92 151.87,509.17 163.99,508.37 C176.11,507.57 201.64,505.43 211.47,504.31 C221.29,503.20 219.50,502.69 222.94,501.67 C226.38,500.66 229.43,499.57 232.11,498.23 C234.79,496.90 236.89,495.37 238.99,493.65 C241.09,491.93 243.00,490.11 244.72,487.91 C246.44,485.71 247.97,483.04 249.31,480.46 C250.65,477.88 251.61,475.49 252.75,472.43 C253.90,469.37 255.24,465.36 256.19,462.11 C257.15,458.86 257.22,458.24 258.49,452.94 C259.75,447.63 262.40,436.35 263.76,430.28 C265.12,424.20 265.67,420.91 266.63,416.51 C267.58,412.12 268.54,407.91 269.50,403.90 C270.45,399.89 271.41,395.68 272.36,392.43 C273.32,389.18 274.27,386.07 275.23,384.40 C276.19,382.74 277.14,382.45 278.10,382.45 C279.05,382.45 280.01,382.74 280.96,384.40 C281.92,386.07 282.87,389.56 283.83,392.43 C284.79,395.30 285.74,398.55 286.70,401.61 C287.65,404.66 289.00,407.71 289.56,410.78 C290.13,413.85 289.56,416.93 290.10,420.00 C290.64,423.07 291.88,426.30 292.80,429.20 C293.72,432.10 294.52,434.80 295.60,437.40 C296.68,440.00 298.08,442.65 299.30,444.80 C300.52,446.95 301.53,448.47 302.90,450.30 C304.27,452.13 305.82,454.12 307.50,455.80 C309.18,457.48 311.02,459.03 313.00,460.40 C314.98,461.77 317.25,462.93 319.40,464.00 C321.55,465.07 323.60,465.72 325.90,466.80 C328.20,467.88 330.92,469.28 333.20,470.50 C335.48,471.72 337.45,472.88 339.60,474.10 C341.75,475.32 343.95,476.65 346.10,477.80 C348.25,478.95 350.52,480.15 352.50,481.00 C354.48,481.85 356.15,482.47 358.00,482.90 C359.85,483.33 361.92,483.67 363.60,483.60 C365.28,483.53 366.78,483.33 368.10,482.50 C369.42,481.67 370.62,480.10 371.50,478.60 C372.38,477.10 373.22,472.93 373.40,473.50 C373.58,474.07 373.02,479.47 372.60,482.00 C372.18,484.53 371.83,486.70 370.90,488.70 C369.97,490.70 368.57,492.28 367.00,494.00 C365.43,495.72 363.72,497.32 361.50,499.00 C359.28,500.68 356.03,502.32 353.70,504.10 C351.37,505.88 349.57,507.65 347.50,509.70 C345.43,511.75 343.37,514.17 341.30,516.40 C339.23,518.63 337.40,520.83 335.10,523.10 C332.80,525.37 329.92,527.98 327.50,530.00 C325.08,532.02 322.90,533.20 320.60,535.20 C318.30,537.20 315.62,540.38 313.70,542.00 C311.78,543.62 310.82,544.22 309.10,544.90 C307.38,545.58 305.50,545.72 303.40,546.10 C301.30,546.48 298.80,546.45 296.50,547.20 C294.20,547.95 291.88,549.35 289.60,550.60 C287.32,551.85 285.08,553.35 282.80,554.70 C280.52,556.05 278.20,557.27 275.90,558.70 C273.60,560.13 271.10,561.40 269.00,563.30 C266.90,565.20 265.22,567.62 263.30,570.10 C261.38,572.58 259.23,575.80 257.50,578.20 C255.77,580.60 254.13,583.13 252.90,584.50 C251.67,585.87 251.05,586.22 250.10,586.40 C249.15,586.58 248.45,587.17 247.20,585.60 C245.95,584.03 244.13,579.97 242.60,577.00 C241.07,574.03 239.53,570.47 238.00,567.80 C236.47,565.13 234.73,562.52 233.40,561.00 C232.07,559.48 232.17,560.43 230.00,558.70 C227.83,556.97 223.23,553.25 220.37,550.64 C217.50,548.04 215.32,545.81 212.80,543.07 C210.28,540.34 207.75,536.77 205.23,534.24 C202.71,531.72 200.18,529.95 197.66,527.94 C195.14,525.92 193.04,523.81 190.09,522.13 C187.15,520.45 183.09,518.71 180.00,517.84 C176.91,516.98 176.33,517.52 171.56,516.95 C166.79,516.38 158.94,515.10 151.38,514.43 C143.81,513.75 134.56,513.33 126.15,512.91 C117.74,512.49 108.49,512.03 100.92,511.90 C93.35,511.78 84.10,512.11 80.73,512.16" fill="none" stroke="#0000ff" stroke-width="1.60" stroke-linejoin="round" stroke-linecap="round"/>
<path d="M709.30,445.70 C709.77,444.27 711.15,440.67 712.10,437.10 C713.05,433.53 714.17,428.58 715.00,424.30 C715.83,420.02 716.38,415.68 717.10,411.40 C717.82,407.12 718.58,403.12 719.30,398.60 C720.02,394.08 720.80,388.35 721.40,384.30 C722.00,380.25 722.40,376.97 722.90,374.30 C723.40,371.63 723.93,368.52 724.40,368.30 C724.87,368.08 725.12,369.15 725.70,373.00 C726.28,376.85 727.18,385.47 727.90,391.40 C728.62,397.33 729.30,402.65 730.00,408.60 C730.70,414.55 731.43,421.53 732.10,427.10 C732.77,432.67 733.43,438.18 734.00,442.00 C734.57,445.82 734.95,446.65 735.50,450.00 C736.05,453.35 736.70,459.02 737.30,462.10 C737.90,465.18 738.27,466.52 739.10,468.50 C739.93,470.48 741.00,472.47 742.30,474.00 C743.60,475.53 745.07,476.62 746.90,477.70 C748.73,478.78 751.47,479.97 753.30,480.50 C755.13,481.03 756.52,481.07 757.90,480.90 C759.28,480.73 760.22,480.48 761.60,479.50 C762.98,478.52 764.67,476.52 766.20,475.00 C767.73,473.48 769.43,471.78 770.80,470.40 C772.17,469.02 773.18,468.23 774.40,466.70 C775.62,465.17 776.87,463.03 778.10,461.20 C779.33,459.37 780.65,457.47 781.80,455.70 C782.95,453.93 784.00,451.83 785.00,450.60 C786.00,449.37 786.88,448.52 787.80,448.30 C788.72,448.08 789.67,448.37 790.50,449.30 C791.33,450.23 791.95,451.77 792.80,453.90 C793.65,456.03 794.68,459.52 795.60,462.10 C796.52,464.68 797.38,467.10 798.30,469.40 C799.22,471.70 800.27,473.98 801.10,475.90 C801.93,477.82 802.47,479.98 803.30,480.90 C804.13,481.82 805.33,481.93 806.10,481.40 C806.87,480.87 807.52,477.40 807.90,477.70 C808.28,478.00 808.38,481.48 808.40,483.20 C808.42,484.92 808.28,485.80 808.00,488.00 C807.72,490.20 807.67,494.00 806.70,496.40 C805.73,498.80 804.18,500.53 802.20,502.40 C800.22,504.27 797.28,505.87 794.80,507.60 C792.32,509.33 790.03,510.45 787.30,512.80 C784.57,515.15 781.38,518.97 778.40,521.70 C775.42,524.43 772.38,526.83 769.40,529.20 C766.42,531.57 763.47,533.92 760.50,535.90 C757.53,537.88 754.08,539.98 751.60,541.10 C749.12,542.22 748.10,542.35 745.60,542.60 C743.10,542.85 739.58,542.35 736.60,542.60 C733.62,542.85 730.67,543.10 727.70,544.10 C724.73,545.10 721.78,546.73 718.80,548.60 C715.82,550.47 712.53,552.82 709.80,555.30 C707.07,557.78 704.38,560.90 702.40,563.50 C700.42,566.10 699.15,569.25 697.90,570.90 C696.65,572.55 695.95,573.30 694.90,573.40 C693.85,573.50 692.68,573.02 691.60,571.50 C690.52,569.98 689.57,566.75 688.40,564.30 C687.23,561.85 686.07,559.53 684.60,556.80 C683.13,554.07 681.28,550.63 679.60,547.90 C677.92,545.17 676.40,542.60 674.50,540.40 C672.60,538.20 670.52,536.28 668.20,534.70 C665.88,533.12 663.53,532.05 660.60,530.90 C657.67,529.75 653.95,528.85 650.60,527.80 C647.25,526.75 644.30,525.77 640.50,524.60 C636.70,523.43 632.02,521.85 627.80,520.80 C623.58,519.75 619.40,519.03 615.20,518.30 C611.00,517.57 606.80,516.93 602.60,516.40 C598.40,515.87 595.72,515.49 590.00,515.10 C584.28,514.71 576.12,514.28 568.30,514.06 C560.48,513.84 551.57,513.89 543.07,513.81 C534.58,513.72 521.63,513.60 517.34,513.56" fill="none" stroke="#000000" stroke-width="1.40" stroke-linejoin="round" stroke-linecap="round"/>
<path d="M517.34,513.56 C521.63,513.43 534.58,513.01 543.07,512.80 C551.57,512.59 559.89,512.42 568.30,512.29 C576.71,512.17 585.72,512.09 593.53,512.04 C601.35,511.99 607.37,512.11 615.20,512.00 C623.03,511.89 633.13,511.72 640.50,511.40 C647.87,511.08 654.15,510.70 659.40,510.10 C664.65,509.50 668.43,508.75 672.00,507.80 C675.57,506.85 678.28,505.47 680.80,504.40 C683.32,503.33 685.22,503.08 687.10,501.40 C688.98,499.72 690.67,497.15 692.10,494.30 C693.53,491.45 694.62,487.87 695.70,484.30 C696.78,480.73 697.65,477.18 698.60,472.90 C699.55,468.62 700.45,463.85 701.40,458.60 C702.35,453.35 703.35,447.35 704.30,441.40 C705.25,435.45 706.15,429.32 707.10,422.90 C708.05,416.48 709.17,408.87 710.00,402.90 C710.83,396.93 711.43,390.92 712.10,387.10 C712.77,383.28 713.35,380.23 714.00,380.00 C714.65,379.77 715.35,382.60 716.00,385.70 C716.65,388.80 717.23,393.37 717.90,398.60 C718.57,403.83 719.30,411.15 720.00,417.10 C720.70,423.05 721.38,429.05 722.10,434.30 C722.82,439.55 723.47,444.55 724.30,448.60 C725.13,452.65 725.92,455.75 727.10,458.60 C728.28,461.45 730.08,463.90 731.40,465.70 C732.72,467.50 733.78,468.23 735.00,469.40 C736.22,470.57 737.32,471.70 738.70,472.70 C740.08,473.70 741.62,474.65 743.30,475.40 C744.98,476.15 746.82,476.67 748.80,477.20 C750.78,477.73 753.07,478.05 755.20,478.60 C757.33,479.15 759.62,479.73 761.60,480.50 C763.58,481.27 765.12,482.22 767.10,483.20 C769.08,484.18 771.35,485.33 773.50,486.40 C775.65,487.47 777.85,488.68 780.00,489.60 C782.15,490.52 784.27,491.28 786.40,491.90 C788.53,492.52 790.67,492.98 792.80,493.30 C794.93,493.62 797.37,493.95 799.20,493.80 C801.03,493.65 802.57,493.25 803.80,492.40 C805.03,491.55 805.83,490.35 806.60,488.70 C807.37,487.05 808.17,482.62 808.40,482.50 C808.63,482.38 808.28,485.68 808.00,488.00 C807.72,490.32 807.67,494.00 806.70,496.40 C805.73,498.80 804.18,500.53 802.20,502.40 C800.22,504.27 797.28,505.87 794.80,507.60 C792.32,509.33 790.03,510.45 787.30,512.80 C784.57,515.15 781.38,518.97 778.40,521.70 C775.42,524.43 772.38,526.83 769.40,529.20 C766.42,531.57 763.23,533.92 760.50,535.90 C757.77,537.88 755.48,540.10 753.00,541.10 C750.52,542.10 748.33,541.77 745.60,541.90 C742.87,542.03 739.58,541.65 736.60,541.90 C733.62,542.15 730.67,542.53 727.70,543.40 C724.73,544.27 721.78,545.50 718.80,547.10 C715.82,548.70 712.53,550.77 709.80,553.00 C707.07,555.23 704.28,558.17 702.40,560.50 C700.52,562.83 699.78,565.00 698.50,567.00 C697.22,569.00 695.97,571.47 694.70,572.50 C693.43,573.53 692.17,573.62 690.90,573.20 C689.63,572.78 688.57,571.90 687.10,570.00 C685.63,568.10 683.78,564.63 682.10,561.80 C680.42,558.97 678.68,555.93 677.00,553.00 C675.32,550.07 673.67,546.73 672.00,544.20 C670.33,541.67 668.90,539.48 667.00,537.80 C665.10,536.12 663.33,535.35 660.60,534.10 C657.87,532.85 653.95,531.78 650.60,530.30 C647.25,528.82 644.30,526.88 640.50,525.20 C636.70,523.52 632.02,521.40 627.80,520.20 C623.58,519.00 619.40,518.67 615.20,518.00 C611.00,517.33 606.80,516.70 602.60,516.20 C598.40,515.70 595.72,515.36 590.00,515.00 C584.28,514.64 576.12,514.26 568.30,514.06 C560.48,513.86 551.57,513.89 543.07,513.81 C534.58,513.72 521.63,513.60 517.34,513.56" fill="none" stroke="#ff0000" stroke-width="1.50" stroke-linejoin="round" stroke-linecap="round"/>
<path d="M517.34,513.56 C521.63,513.43 534.58,513.01 543.07,512.80 C551.57,512.59 559.89,512.42 568.30,512.29 C576.71,512.17 585.72,512.16 593.53,512.04 C601.35,511.93 607.37,511.82 615.20,511.60 C623.03,511.38 633.13,511.12 640.50,510.70 C647.87,510.28 654.72,509.70 659.40,509.10 C664.08,508.50 665.88,507.78 668.60,507.10 C671.32,506.42 673.32,506.07 675.70,505.00 C678.08,503.93 680.75,502.37 682.90,500.70 C685.05,499.03 686.93,497.27 688.60,495.00 C690.27,492.73 691.72,489.83 692.90,487.10 C694.08,484.37 694.75,481.93 695.70,478.60 C696.65,475.27 697.65,471.38 698.60,467.10 C699.55,462.82 700.45,458.13 701.40,452.90 C702.35,447.67 703.35,441.67 704.30,435.70 C705.25,429.73 706.15,423.28 707.10,417.10 C708.05,410.92 709.17,403.60 710.00,398.60 C710.83,393.60 711.58,389.60 712.10,387.10 C712.62,384.60 712.62,383.60 713.10,383.60 C713.58,383.60 714.33,384.37 715.00,387.10 C715.67,389.83 716.38,395.00 717.10,400.00 C717.82,405.00 718.58,411.38 719.30,417.10 C720.02,422.82 720.68,428.82 721.40,434.30 C722.12,439.78 722.77,445.48 723.60,450.00 C724.43,454.52 725.33,458.55 726.40,461.40 C727.47,464.25 728.57,465.30 730.00,467.10 C731.43,468.90 733.55,470.88 735.00,472.20 C736.45,473.52 737.32,474.17 738.70,475.00 C740.08,475.83 741.62,476.52 743.30,477.20 C744.98,477.88 746.82,478.55 748.80,479.10 C750.78,479.65 753.07,479.97 755.20,480.50 C757.33,481.03 759.62,481.55 761.60,482.30 C763.58,483.05 765.12,484.00 767.10,485.00 C769.08,486.00 771.35,487.22 773.50,488.30 C775.65,489.38 777.85,490.58 780.00,491.50 C782.15,492.42 784.27,493.20 786.40,493.80 C788.53,494.40 790.67,494.75 792.80,495.10 C794.93,495.45 797.37,495.97 799.20,495.90 C801.03,495.83 802.57,495.58 803.80,494.70 C805.03,493.82 805.83,492.22 806.60,490.60 C807.37,488.98 808.17,485.27 808.40,485.00 C808.63,484.73 808.28,487.07 808.00,489.00 C807.72,490.93 807.67,494.33 806.70,496.60 C805.73,498.87 804.18,500.73 802.20,502.60 C800.22,504.47 797.28,506.07 794.80,507.80 C792.32,509.53 790.03,510.65 787.30,513.00 C784.57,515.35 781.38,519.17 778.40,521.90 C775.42,524.63 772.38,527.03 769.40,529.40 C766.42,531.77 763.23,534.15 760.50,536.10 C757.77,538.05 755.48,540.13 753.00,541.10 C750.52,542.07 748.33,541.77 745.60,541.90 C742.87,542.03 739.58,541.65 736.60,541.90 C733.62,542.15 730.67,542.53 727.70,543.40 C724.73,544.27 721.78,545.50 718.80,547.10 C715.82,548.70 712.53,550.77 709.80,553.00 C707.07,555.23 704.28,558.33 702.40,560.50 C700.52,562.67 699.78,564.10 698.50,566.00 C697.22,567.90 695.97,570.60 694.70,571.90 C693.43,573.20 692.17,573.90 690.90,573.80 C689.63,573.70 688.57,573.08 687.10,571.30 C685.63,569.52 683.78,565.95 682.10,563.10 C680.42,560.25 678.68,557.15 677.00,554.20 C675.32,551.25 673.67,548.02 672.00,545.40 C670.33,542.78 668.90,540.35 667.00,538.50 C665.10,536.65 663.33,535.67 660.60,534.30 C657.87,532.93 653.95,531.85 650.60,530.30 C647.25,528.75 644.30,526.72 640.50,525.00 C636.70,523.28 632.02,521.17 627.80,520.00 C623.58,518.83 619.40,518.63 615.20,518.00 C611.00,517.37 606.80,516.70 602.60,516.20 C598.40,515.70 595.72,515.36 590.00,515.00 C584.28,514.64 576.12,514.26 568.30,514.06 C560.48,513.86 551.57,513.89 543.07,513.81 C534.58,513.72 521.63,513.60 517.34,513.56" fill="none" stroke="#0000ff" stroke-width="1.60" stroke-linejoin="round" stroke-linecap="round"/>
<path d="M303.78,847.84 C306.30,847.68 312.19,847.13 318.92,846.83 C325.65,846.54 335.74,846.25 344.15,846.08 C352.56,845.91 360.97,845.95 369.38,845.83 C377.79,845.70 386.20,845.49 394.61,845.32 C403.02,845.15 415.60,844.98 419.83,844.82 C424.07,844.65 415.77,844.42 420.00,844.33 C424.23,844.25 436.82,844.33 445.23,844.33 C453.64,844.33 464.15,844.33 470.46,844.33 C476.77,844.33 480.13,844.46 483.07,844.33 C486.02,844.21 486.23,844.21 488.12,843.58 C490.01,842.95 492.53,842.32 494.43,840.55 C496.32,838.78 498.00,836.77 499.47,832.98 C500.94,829.20 502.34,823.34 503.26,817.84 C504.18,812.35 504.51,805.64 505.00,800.00 C505.49,794.36 505.80,789.72 506.20,784.00 C506.60,778.28 506.98,771.82 507.40,765.70 C507.82,759.58 508.28,753.42 508.70,747.30 C509.12,741.18 509.50,735.12 509.90,729.00 C510.30,722.88 510.70,715.30 511.10,710.60 C511.50,705.90 511.88,702.95 512.30,700.80 C512.72,698.65 513.18,698.92 513.60,697.70 C514.02,696.48 514.40,693.18 514.80,693.50 C515.20,693.82 515.60,696.13 516.00,699.60 C516.40,703.07 516.78,709.40 517.20,714.30 C517.62,719.20 517.98,723.30 518.50,729.00 C519.02,734.70 519.70,742.38 520.30,748.50 C520.90,754.62 521.48,759.78 522.10,765.70 C522.72,771.62 523.58,779.95 524.00,784.00 C524.42,788.05 524.25,787.62 524.60,790.00 C524.95,792.38 525.38,795.53 526.10,798.30 C526.82,801.07 527.83,804.30 528.90,806.60 C529.97,808.90 531.13,810.57 532.50,812.10 C533.87,813.63 535.27,814.88 537.10,815.80 C538.93,816.72 541.52,817.60 543.50,817.60 C545.48,817.60 547.17,816.33 549.00,815.80 C550.83,815.27 552.67,814.72 554.50,814.40 C556.33,814.08 557.85,814.28 560.00,813.90 C562.15,813.52 565.55,812.10 567.40,812.10 C569.25,812.10 569.88,812.87 571.10,813.90 C572.32,814.93 573.47,816.92 574.70,818.30 C575.93,819.68 577.17,821.01 578.50,822.20 C579.83,823.39 581.28,824.42 582.66,825.41 C584.04,826.41 585.64,827.59 586.79,828.17 C587.94,828.74 588.85,829.54 589.54,828.85 C590.23,828.17 590.46,824.61 590.92,824.04 C591.38,823.46 591.83,825.87 592.29,825.41 C592.75,824.95 593.26,822.89 593.67,821.28 C594.08,819.68 594.47,816.01 594.77,815.78 C595.07,815.55 595.23,819.68 595.46,819.91 C595.69,820.14 595.94,816.93 596.15,817.16 C596.35,817.39 596.54,820.14 596.70,821.28 C596.86,822.43 597.16,822.43 597.11,824.04 C597.06,825.64 596.77,828.97 596.42,830.92 C596.08,832.87 595.73,834.40 595.05,835.73 C594.36,837.06 593.44,838.10 592.29,838.90 C591.15,839.70 589.78,840.13 588.17,840.55 C586.55,840.97 584.68,840.93 582.60,841.40 C580.52,841.87 577.80,842.48 575.70,843.40 C573.60,844.32 571.92,845.55 570.00,846.90 C568.08,848.25 566.12,849.97 564.20,851.50 C562.28,853.03 560.40,854.58 558.50,856.10 C556.60,857.62 554.72,859.08 552.80,860.60 C550.88,862.12 548.73,863.77 547.00,865.20 C545.27,866.63 543.93,868.15 542.40,869.20 C540.87,870.25 539.32,871.25 537.80,871.50 C536.28,871.75 535.02,870.88 533.30,870.70 C531.58,870.52 529.62,870.35 527.50,870.40 C525.38,870.45 522.88,870.62 520.60,871.00 C518.32,871.38 516.22,871.77 513.80,872.70 C511.38,873.63 508.30,875.33 506.10,876.60 C503.90,877.87 502.28,878.77 500.60,880.30 C498.92,881.83 497.38,883.82 496.00,885.80 C494.62,887.78 493.38,890.07 492.30,892.20 C491.22,894.33 490.42,896.68 489.50,898.60 C488.58,900.52 487.72,902.58 486.80,903.70 C485.88,904.82 484.92,905.38 484.00,905.30 C483.08,905.22 482.22,904.47 481.30,903.20 C480.38,901.93 479.42,899.83 478.50,897.70 C477.58,895.57 476.87,893.00 475.80,890.40 C474.73,887.80 473.33,884.70 472.10,882.10 C470.87,879.50 469.62,877.10 468.40,874.80 C467.18,872.50 466.17,870.30 464.80,868.30 C463.43,866.30 461.88,864.47 460.20,862.80 C458.52,861.13 456.85,859.67 454.70,858.30 C452.55,856.93 449.75,855.52 447.30,854.60 C444.85,853.68 442.45,853.54 440.00,852.80 C437.55,852.06 435.95,850.71 432.61,850.14 C429.28,849.57 422.97,849.55 420.00,849.38 C417.03,849.21 419.02,849.28 414.79,849.11 C410.56,848.93 402.17,848.64 394.61,848.35 C387.04,848.05 377.79,847.55 369.38,847.34 C360.97,847.13 352.56,847.09 344.15,847.09 C335.74,847.09 325.65,847.21 318.92,847.34 C312.19,847.47 306.30,847.76 303.78,847.84" fill="none" stroke="#000000" stroke-width="1.40" stroke-linejoin="round" stroke-linecap="round"/>
<path d="M303.78,847.84 C306.30,847.68 312.19,847.13 318.92,846.83 C325.65,846.54 335.74,846.25 344.15,846.08 C352.56,845.91 360.97,845.95 369.38,845.83 C377.79,845.70 386.20,845.49 394.61,845.32 C403.02,845.15 415.60,844.77 419.83,844.82 C424.07,844.86 415.77,845.55 420.00,845.60 C424.23,845.64 438.08,845.30 445.23,845.09 C452.38,844.88 458.69,844.76 462.89,844.33 C467.09,843.91 467.94,843.83 470.46,842.57 C472.98,841.31 475.71,839.63 478.03,836.77 C480.34,833.91 482.39,831.54 484.33,825.41 C486.28,819.29 488.51,806.90 489.70,800.00 C490.89,793.10 490.88,788.90 491.50,784.00 C492.12,779.10 492.68,775.28 493.40,770.60 C494.12,765.92 494.98,760.08 495.80,755.90 C496.62,751.72 497.58,747.95 498.30,745.50 C499.02,743.05 499.50,741.52 500.10,741.20 C500.70,740.88 501.18,741.57 501.90,743.60 C502.62,745.63 503.58,749.72 504.40,753.40 C505.22,757.08 505.98,761.20 506.80,765.70 C507.62,770.20 508.48,775.72 509.30,780.40 C510.12,785.08 510.98,790.53 511.70,793.80 C512.42,797.07 512.90,797.90 513.60,800.00 C514.30,802.10 514.65,804.26 515.87,806.38 C517.09,808.49 518.81,810.79 520.92,812.68 C523.02,814.58 526.38,816.53 528.49,817.73 C530.59,818.93 531.01,819.21 533.53,819.86 C536.06,820.51 540.68,820.91 543.62,821.63 C546.57,822.34 548.25,822.89 551.19,824.15 C554.14,825.41 557.92,827.73 561.28,829.20 C564.65,830.67 568.01,831.93 571.38,832.98 C574.74,834.03 579.36,834.93 581.47,835.50 C583.58,836.08 582.69,836.50 584.04,836.42 C585.38,836.35 587.94,835.73 589.54,835.05 C591.15,834.36 592.64,833.21 593.67,832.29 C594.70,831.38 595.23,830.69 595.73,829.54 C596.24,828.39 596.63,825.07 596.70,825.41 C596.77,825.76 596.54,829.89 596.15,831.61 C595.76,833.33 595.23,834.59 594.36,835.73 C593.49,836.88 592.41,837.68 590.92,838.49 C589.43,839.29 586.42,840.15 585.41,840.55 C584.41,840.95 586.14,840.64 584.90,840.90 C583.66,841.16 580.30,841.68 578.00,842.10 C575.70,842.52 573.40,842.70 571.10,843.40 C568.80,844.10 566.30,845.15 564.20,846.30 C562.10,847.45 560.40,848.67 558.50,850.30 C556.60,851.93 554.72,854.00 552.80,856.10 C550.88,858.20 548.73,860.90 547.00,862.90 C545.27,864.90 543.93,866.57 542.40,868.10 C540.87,869.63 539.32,871.33 537.80,872.10 C536.28,872.87 535.02,872.70 533.30,872.70 C531.58,872.70 529.62,872.43 527.50,872.10 C525.38,871.77 523.25,870.57 520.60,870.70 C517.95,870.83 514.18,872.15 511.60,872.90 C509.02,873.65 507.10,874.28 505.10,875.20 C503.10,876.12 501.28,877.10 499.60,878.40 C497.92,879.70 496.37,881.32 495.00,883.00 C493.63,884.68 492.47,886.50 491.40,888.50 C490.33,890.50 489.52,893.08 488.60,895.00 C487.68,896.92 486.73,898.93 485.90,900.00 C485.07,901.07 484.37,901.40 483.60,901.40 C482.83,901.40 482.15,900.77 481.30,900.00 C480.45,899.23 479.42,898.25 478.50,896.80 C477.58,895.35 476.87,893.43 475.80,891.30 C474.73,889.17 473.33,886.45 472.10,884.00 C470.87,881.55 469.62,878.98 468.40,876.60 C467.18,874.22 466.17,871.92 464.80,869.70 C463.43,867.48 461.88,865.15 460.20,863.30 C458.52,861.45 456.85,859.98 454.70,858.60 C452.55,857.22 449.75,855.97 447.30,855.00 C444.85,854.03 442.45,853.69 440.00,852.80 C437.55,851.91 435.95,850.33 432.61,849.63 C429.28,848.94 422.97,848.71 420.00,848.62 C417.03,848.54 419.02,849.19 414.79,849.11 C410.56,849.02 402.17,848.39 394.61,848.10 C387.04,847.80 377.79,847.51 369.38,847.34 C360.97,847.17 352.56,847.09 344.15,847.09 C335.74,847.09 325.65,847.21 318.92,847.34 C312.19,847.47 306.30,847.76 303.78,847.84" fill="none" stroke="#ff0000" stroke-width="1.50" stroke-linejoin="round" stroke-linecap="round"/>
<path d="M303.78,847.84 C306.30,847.68 312.19,847.13 318.92,846.83 C325.65,846.54 335.74,846.25 344.15,846.08 C352.56,845.91 360.97,845.95 369.38,845.83 C377.79,845.70 386.20,845.49 394.61,845.32 C403.02,845.15 415.60,844.77 419.83,844.82 C424.07,844.86 415.77,845.55 420.00,845.60 C424.23,845.64 438.08,845.43 445.23,845.09 C452.38,844.76 458.69,844.12 462.89,843.58 C467.09,843.03 467.94,843.16 470.46,841.81 C472.98,840.47 475.71,838.45 478.03,835.50 C480.34,832.56 482.49,830.07 484.33,824.15 C486.18,818.23 488.01,806.48 489.10,800.00 C490.19,793.52 490.18,790.20 490.90,785.30 C491.62,780.40 492.58,775.50 493.40,770.60 C494.22,765.70 495.10,759.78 495.80,755.90 C496.50,752.02 496.98,749.35 497.60,747.30 C498.22,745.25 498.88,743.80 499.50,743.60 C500.12,743.40 500.58,744.05 501.30,746.10 C502.02,748.15 502.98,752.23 503.80,755.90 C504.62,759.57 505.38,763.62 506.20,768.10 C507.02,772.58 507.88,778.30 508.70,782.80 C509.52,787.30 510.43,792.23 511.10,795.10 C511.77,797.97 511.99,797.91 512.70,800.00 C513.41,802.09 514.00,805.31 515.37,807.64 C516.74,809.96 518.73,812.14 520.92,813.94 C523.10,815.75 526.38,817.42 528.49,818.49 C530.59,819.56 531.01,819.76 533.53,820.37 C536.06,820.97 540.68,821.38 543.62,822.13 C546.57,822.89 548.25,823.60 551.19,824.91 C554.14,826.21 557.92,828.48 561.28,829.95 C564.65,831.43 568.01,832.73 571.38,833.74 C574.74,834.75 579.36,835.56 581.47,836.01 C583.58,836.46 582.69,836.58 584.04,836.42 C585.38,836.26 587.94,835.62 589.54,835.05 C591.15,834.47 592.64,833.78 593.67,832.98 C594.70,832.18 595.23,831.38 595.73,830.23 C596.24,829.08 596.63,825.76 596.70,826.10 C596.77,826.44 596.54,830.57 596.15,832.29 C595.76,834.01 595.23,835.28 594.36,836.42 C593.49,837.57 592.41,838.44 590.92,839.17 C589.43,839.91 586.42,840.59 585.41,840.83 C584.41,841.06 586.14,840.50 584.90,840.60 C583.66,840.70 580.30,841.08 578.00,841.40 C575.70,841.72 573.40,841.97 571.10,842.50 C568.80,843.03 566.30,843.68 564.20,844.60 C562.10,845.52 560.40,846.47 558.50,848.00 C556.60,849.53 554.72,851.70 552.80,853.80 C550.88,855.90 548.73,858.40 547.00,860.60 C545.27,862.80 543.93,865.08 542.40,867.00 C540.87,868.92 539.32,871.02 537.80,872.10 C536.28,873.18 535.02,873.35 533.30,873.50 C531.58,873.65 529.62,873.47 527.50,873.00 C525.38,872.53 523.25,870.78 520.60,870.70 C517.95,870.62 514.18,871.90 511.60,872.50 C509.02,873.10 507.10,873.53 505.10,874.30 C503.10,875.07 501.28,875.95 499.60,877.10 C497.92,878.25 496.37,879.60 495.00,881.20 C493.63,882.80 492.47,884.87 491.40,886.70 C490.33,888.53 489.52,890.52 488.60,892.20 C487.68,893.88 486.73,895.65 485.90,896.80 C485.07,897.95 484.37,898.80 483.60,899.10 C482.83,899.40 482.15,899.13 481.30,898.60 C480.45,898.07 479.42,897.05 478.50,895.90 C477.58,894.75 476.87,893.53 475.80,891.70 C474.73,889.87 473.33,887.27 472.10,884.90 C470.87,882.53 469.62,879.95 468.40,877.50 C467.18,875.05 466.17,872.48 464.80,870.20 C463.43,867.92 461.88,865.67 460.20,863.80 C458.52,861.93 456.85,860.42 454.70,859.00 C452.55,857.58 449.75,856.33 447.30,855.30 C444.85,854.27 442.45,853.74 440.00,852.80 C437.55,851.86 435.95,850.33 432.61,849.63 C429.28,848.94 422.97,848.71 420.00,848.62 C417.03,848.54 419.02,849.19 414.79,849.11 C410.56,849.02 402.17,848.39 394.61,848.10 C387.04,847.80 377.79,847.51 369.38,847.34 C360.97,847.17 352.56,847.09 344.15,847.09 C335.74,847.09 325.65,847.21 318.92,847.34 C312.19,847.47 306.30,847.76 303.78,847.84" fill="none" stroke="#0000ff" stroke-width="1.60" stroke-linejoin="round" stroke-linecap="round"/>
<line x1="297.70" y1="95.90" x2="297.70" y2="214.40" stroke="#ff1a1a" stroke-width="1.50" stroke-dasharray="4.6 5.1"/>
<line x1="214.30" y1="197.50" x2="214.30" y2="264.90" stroke="#ff1a1a" stroke-width="1.50" stroke-dasharray="4.6 5.1"/>
<line x1="203.20" y1="204.40" x2="334.00" y2="204.40" stroke="#333" stroke-width="0.9"/>
<path d="M212.00,204.40 L207.00,202.50 L207.00,206.30 Z" fill="#000"/>
<path d="M300.30,204.40 L305.30,202.50 L305.30,206.30 Z" fill="#000"/>
<text x="305.20" y="199.80" class="lb" style="font-size:11.5px">ΔEp1</text>
<line x1="723.40" y1="63.80" x2="723.40" y2="208.10" stroke="#ff1a1a" stroke-width="1.50" stroke-dasharray="4.6 5.1"/>
<line x1="693.20" y1="190.30" x2="693.20" y2="259.50" stroke="#ff1a1a" stroke-width="1.50" stroke-dasharray="4.6 5.1"/>
<line x1="680.70" y1="198.20" x2="767.90" y2="198.20" stroke="#333" stroke-width="0.9"/>
<path d="M692.00,198.20 L687.00,196.30 L687.00,200.10 Z" fill="#000"/>
<path d="M725.00,198.20 L730.00,196.30 L730.00,200.10 Z" fill="#000"/>
<text x="736.70" y="193.90" class="lb" style="font-size:11.5px">ΔEp2</text>
<line x1="295.00" y1="348.90" x2="295.00" y2="530.50" stroke="#ff1a1a" stroke-width="1.80" stroke-dasharray="4.6 5.1"/>
<line x1="251.90" y1="510.30" x2="251.90" y2="597.30" stroke="#ff1a1a" stroke-width="1.50" stroke-dasharray="4.6 5.1"/>
<line x1="237.50" y1="522.40" x2="330.10" y2="522.40" stroke="#333" stroke-width="0.9"/>
<path d="M250.50,522.40 L245.50,520.50 L245.50,524.30 Z" fill="#000"/>
<path d="M296.50,522.40 L301.50,520.50 L301.50,524.30 Z" fill="#000"/>
<text x="303.10" y="519.10" class="lb" style="font-size:11.5px">ΔEp3</text>
<line x1="724.20" y1="348.90" x2="724.20" y2="522.80" stroke="#ff1a1a" stroke-width="1.80" stroke-dasharray="4.6 5.1"/>
<line x1="694.70" y1="510.30" x2="694.70" y2="589.70" stroke="#ff1a1a" stroke-width="1.80" stroke-dasharray="4.6 5.1"/>
<path d="M688.3,519.6 H694.2 M688.6,517.8 V521.4 M724.9,519.6 H730.2 M729.9,517.8 V521.4" stroke="#000" stroke-width="1.6"/>
<text x="737.80" y="515.10" class="lb" style="font-size:11.5px">ΔEp4</text>
<line x1="514.30" y1="674.90" x2="514.30" y2="864.50" stroke="#ff1a1a" stroke-width="1.80" stroke-dasharray="4.6 5.1"/>
<line x1="484.20" y1="848.10" x2="484.20" y2="921.30" stroke="#ff1a1a" stroke-width="1.80" stroke-dasharray="4.6 5.1"/>
<line x1="471.70" y1="852.00" x2="484.00" y2="852.00" stroke="#333" stroke-width="0.9"/>
<path d="M483.30,852.00 L478.30,850.10 L478.30,853.90 Z" fill="#000"/>
<line x1="484" y1="852" x2="514" y2="852" stroke="#c8c8c8" stroke-width="0.9"/>
<line x1="514.30" y1="852.00" x2="553.80" y2="852.00" stroke="#333" stroke-width="0.9"/>
<path d="M515.20,852.00 L520.20,850.10 L520.20,853.90 Z" fill="#000"/>
<text x="520.90" y="847.30" class="lb" style="font-size:11.5px">ΔEp5</text>
</svg>
</body></html>
